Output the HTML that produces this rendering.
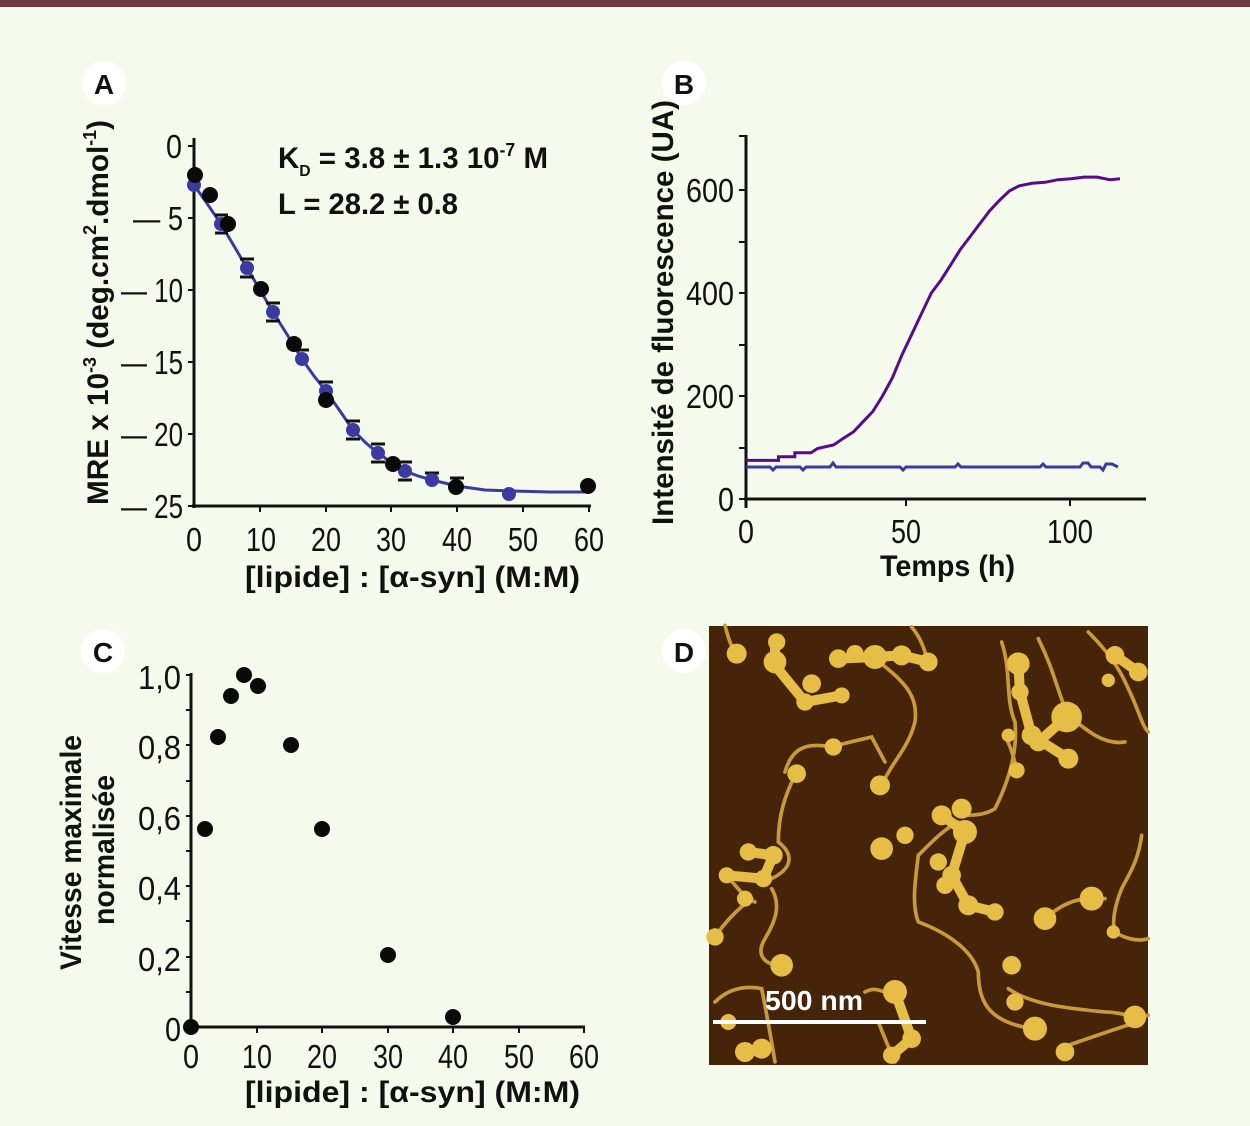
<!DOCTYPE html>
<html><head><meta charset="utf-8"><style>
html,body{margin:0;padding:0;background:#f5fbec;}
svg{display:block;}
text{font-family:"Liberation Sans Narrow","Liberation Sans",sans-serif;}
.t{font-size:33px;fill:#111;}
.b{font-size:30px;font-weight:bold;fill:#111;}
.lab{font-size:28px;font-weight:bold;fill:#111;text-anchor:middle;}
</style></head><body>
<svg width="1250" height="1126" viewBox="0 0 1250 1126" xmlns="http://www.w3.org/2000/svg">
<rect x="0" y="0" width="1250" height="1126" fill="#f5fbec"/>
<rect x="0" y="0" width="1250" height="7" fill="#6e3a48"/>

<circle cx="104" cy="83" r="22" fill="#fff"/><text x="104" y="94" class="lab">A</text>
<circle cx="684" cy="83" r="22" fill="#fff"/><text x="684" y="94" class="lab">B</text>
<circle cx="103" cy="651" r="22" fill="#fff"/><text x="103" y="662" class="lab">C</text>
<circle cx="684" cy="651" r="22" fill="#fff"/><text x="684" y="662" class="lab">D</text>

<!-- ============ Panel A ============ -->
<g stroke="#111" stroke-width="3" fill="none">
<line x1="194" y1="138" x2="194" y2="508"/>
<line x1="192" y1="506" x2="591" y2="506"/>
<g stroke-width="2">
<line x1="188" y1="146" x2="194" y2="146"/><line x1="188" y1="218" x2="194" y2="218"/>
<line x1="188" y1="290" x2="194" y2="290"/><line x1="188" y1="362" x2="194" y2="362"/>
<line x1="188" y1="434" x2="194" y2="434"/><line x1="188" y1="506" x2="194" y2="506"/>
<line x1="260" y1="506" x2="260" y2="512"/><line x1="326" y1="506" x2="326" y2="512"/>
<line x1="391" y1="506" x2="391" y2="512"/><line x1="457" y1="506" x2="457" y2="512"/>
<line x1="523" y1="506" x2="523" y2="512"/><line x1="589" y1="506" x2="589" y2="512"/>
</g></g>
<g class="t">
<text x="166" y="158" textLength="16" lengthAdjust="spacingAndGlyphs">0</text>
<text x="133" y="230" textLength="50" lengthAdjust="spacingAndGlyphs">— 5</text>
<text x="121" y="302" textLength="62" lengthAdjust="spacingAndGlyphs">— 10</text>
<text x="121" y="374" textLength="62" lengthAdjust="spacingAndGlyphs">— 15</text>
<text x="121" y="446" textLength="62" lengthAdjust="spacingAndGlyphs">— 20</text>
<text x="121" y="518" textLength="62" lengthAdjust="spacingAndGlyphs">— 25</text>
</g>
<g class="t">
<text x="186" y="551" textLength="16" lengthAdjust="spacingAndGlyphs">0</text>
<text x="246" y="551" textLength="30" lengthAdjust="spacingAndGlyphs">10</text>
<text x="311" y="551" textLength="30" lengthAdjust="spacingAndGlyphs">20</text>
<text x="376" y="551" textLength="30" lengthAdjust="spacingAndGlyphs">30</text>
<text x="442" y="551" textLength="30" lengthAdjust="spacingAndGlyphs">40</text>
<text x="508" y="551" textLength="30" lengthAdjust="spacingAndGlyphs">50</text>
<text x="574" y="551" textLength="30" lengthAdjust="spacingAndGlyphs">60</text>
</g>
<text x="245" y="587" class="b" textLength="335" lengthAdjust="spacingAndGlyphs">[lipide] : [α-syn] (M:M)</text>
<text transform="translate(108,505) rotate(-90)" class="b" textLength="385" lengthAdjust="spacingAndGlyphs">MRE x 10<tspan font-size="18" dy="-12">-3</tspan><tspan dy="12"> (deg.cm</tspan><tspan font-size="18" dy="-12">2</tspan><tspan dy="12">.dmol</tspan><tspan font-size="18" dy="-12">-1</tspan><tspan dy="12">)</tspan></text>
<text x="278" y="168" class="b" textLength="270" lengthAdjust="spacingAndGlyphs">K<tspan font-size="16" dy="8">D</tspan><tspan dy="-8"> = 3.8 ± 1.3 10</tspan><tspan font-size="18" dy="-12">-7</tspan><tspan dy="12"> M</tspan></text>
<text x="278" y="214" class="b" textLength="180" lengthAdjust="spacingAndGlyphs">L = 28.2 ± 0.8</text>
<polyline fill="none" stroke="#3a3aa0" stroke-width="3" points="194,185 206,202 221,224 234,246 247,268 260,290 273,312 288,336 302,359 314,376 326,391 340,411 353,430 366,443 378,453 392,463 405,471 418,476 432,480 457,486 485,490 512,491 550,492 589,492"/>
<g stroke="#111" stroke-width="3">
<line x1="215" y1="215" x2="228" y2="215"/><line x1="240" y1="259" x2="254" y2="259"/>
<line x1="266" y1="303" x2="280" y2="303"/><line x1="295" y1="350" x2="309" y2="350"/>
<line x1="319" y1="382" x2="333" y2="382"/><line x1="346" y1="421" x2="360" y2="421"/>
<line x1="371" y1="444" x2="385" y2="444"/><line x1="398" y1="462" x2="412" y2="462"/>
<line x1="425" y1="473" x2="439" y2="473"/><line x1="450" y1="478" x2="464" y2="478"/>
<line x1="215" y1="233" x2="228" y2="233"/><line x1="240" y1="277" x2="254" y2="277"/>
<line x1="266" y1="321" x2="280" y2="321"/><line x1="319" y1="400" x2="333" y2="400"/>
<line x1="346" y1="439" x2="360" y2="439"/><line x1="371" y1="462" x2="385" y2="462"/>
<line x1="398" y1="480" x2="412" y2="480"/>
</g>
<g fill="#3a3aa0">
<circle cx="194" cy="185" r="7"/><circle cx="221" cy="224" r="7"/><circle cx="247" cy="268" r="7"/>
<circle cx="273" cy="312" r="7"/><circle cx="302" cy="359" r="7"/><circle cx="326" cy="391" r="7"/>
<circle cx="353" cy="430" r="7"/><circle cx="378" cy="453" r="7"/><circle cx="405" cy="471" r="7"/>
<circle cx="432" cy="480" r="7"/><circle cx="509" cy="494" r="7"/>
</g>
<g fill="#0a0a0a">
<circle cx="195" cy="175" r="8"/><circle cx="210" cy="195" r="8"/><circle cx="228" cy="224" r="8"/>
<circle cx="261" cy="289" r="8"/><circle cx="294" cy="344" r="8"/><circle cx="326" cy="400" r="8"/>
<circle cx="393" cy="464" r="8"/><circle cx="456" cy="487" r="8"/><circle cx="588" cy="486" r="8"/>
</g>

<!-- ============ Panel B ============ -->
<g stroke="#111" stroke-width="3" fill="none">
<line x1="746" y1="135" x2="746" y2="508"/>
<line x1="744" y1="499" x2="1146" y2="499"/>
<g stroke-width="2">
<line x1="739" y1="136" x2="746" y2="136"/><line x1="739" y1="190" x2="746" y2="190"/>
<line x1="739" y1="242" x2="746" y2="242"/><line x1="739" y1="293" x2="746" y2="293"/>
<line x1="739" y1="345" x2="746" y2="345"/><line x1="739" y1="396" x2="746" y2="396"/>
<line x1="739" y1="448" x2="746" y2="448"/><line x1="739" y1="499" x2="746" y2="499"/>
<line x1="906" y1="499" x2="906" y2="506"/><line x1="1070" y1="499" x2="1070" y2="506"/>
</g></g>
<g class="t">
<text x="718" y="511" textLength="16" lengthAdjust="spacingAndGlyphs">0</text>
<text x="686" y="408" textLength="48" lengthAdjust="spacingAndGlyphs">200</text>
<text x="686" y="305" textLength="48" lengthAdjust="spacingAndGlyphs">400</text>
<text x="686" y="202" textLength="48" lengthAdjust="spacingAndGlyphs">600</text>
</g>
<g class="t">
<text x="738" y="543" textLength="16" lengthAdjust="spacingAndGlyphs">0</text>
<text x="891" y="543" textLength="30" lengthAdjust="spacingAndGlyphs">50</text>
<text x="1047" y="543" textLength="46" lengthAdjust="spacingAndGlyphs">100</text>
</g>
<text x="880" y="576" class="b" textLength="135" lengthAdjust="spacingAndGlyphs">Temps (h)</text>
<text transform="translate(673,525) rotate(-90)" class="b" textLength="425" lengthAdjust="spacingAndGlyphs">Intensité de fluorescence (UA)</text>
<polyline fill="none" stroke="#3a3aa0" stroke-width="3" points="746,467 770,467 773,470 776,467 800,467 803,470 806,467 830,467 833,463 836,467 900,467 903,470 906,467 955,467 958,464 961,467 1040,467 1043,464 1046,467 1080,467 1083,463 1088,463 1091,467 1100,467 1103,470 1106,464 1112,464 1118,467"/>
<polyline fill="none" stroke="#5a0a8a" stroke-width="3" points="746,460.4 778.5,460.4 778.5,456.8 794.8,456.8 794.8,452.7 811,452.7 817.5,448.5 833.8,444.9 843.5,438.2 853.3,432 863,421.8 872.8,411.5 882.5,396 892.3,378 902,354.8 911.8,334.2 921.5,313.6 931.3,293 941,280.1 950.8,264.7 960.5,249.2 970.3,236.4 980,223.5 989.8,210.6 999.5,200.3 1009.3,191 1019,185.9 1032,183.3 1045,182.3 1058,179.7 1071,178.7 1084,177.1 1097,177.1 1110,179.7 1120,178.7"/>

<!-- ============ Panel C ============ -->
<g stroke="#111" stroke-width="3" fill="none">
<line x1="191" y1="673" x2="191" y2="1030"/>
<line x1="189" y1="1027" x2="585" y2="1027"/>
<g stroke-width="2">
<line x1="186" y1="675" x2="191" y2="675"/><line x1="186" y1="710" x2="191" y2="710"/>
<line x1="186" y1="745" x2="191" y2="745"/><line x1="186" y1="781" x2="191" y2="781"/>
<line x1="186" y1="816" x2="191" y2="816"/><line x1="186" y1="851" x2="191" y2="851"/>
<line x1="186" y1="886" x2="191" y2="886"/><line x1="186" y1="921" x2="191" y2="921"/>
<line x1="186" y1="957" x2="191" y2="957"/><line x1="186" y1="992" x2="191" y2="992"/>
<line x1="257" y1="1027" x2="257" y2="1033"/><line x1="322" y1="1027" x2="322" y2="1033"/>
<line x1="388" y1="1027" x2="388" y2="1033"/><line x1="453" y1="1027" x2="453" y2="1033"/>
<line x1="519" y1="1027" x2="519" y2="1033"/><line x1="584" y1="1027" x2="584" y2="1033"/>
</g></g>
<g class="t">
<text x="138" y="689" textLength="43" lengthAdjust="spacingAndGlyphs">1,0</text>
<text x="138" y="759" textLength="43" lengthAdjust="spacingAndGlyphs">0,8</text>
<text x="138" y="830" textLength="43" lengthAdjust="spacingAndGlyphs">0,6</text>
<text x="138" y="900" textLength="43" lengthAdjust="spacingAndGlyphs">0,4</text>
<text x="138" y="971" textLength="43" lengthAdjust="spacingAndGlyphs">0,2</text>
<text x="165" y="1041" textLength="16" lengthAdjust="spacingAndGlyphs">0</text>
</g>
<g class="t">
<text x="183" y="1068" textLength="16" lengthAdjust="spacingAndGlyphs">0</text>
<text x="242" y="1068" textLength="30" lengthAdjust="spacingAndGlyphs">10</text>
<text x="307" y="1068" textLength="30" lengthAdjust="spacingAndGlyphs">20</text>
<text x="373" y="1068" textLength="30" lengthAdjust="spacingAndGlyphs">30</text>
<text x="438" y="1068" textLength="30" lengthAdjust="spacingAndGlyphs">40</text>
<text x="504" y="1068" textLength="30" lengthAdjust="spacingAndGlyphs">50</text>
<text x="569" y="1068" textLength="30" lengthAdjust="spacingAndGlyphs">60</text>
</g>
<text x="245" y="1102" class="b" textLength="335" lengthAdjust="spacingAndGlyphs">[lipide] : [α-syn] (M:M)</text>
<text transform="translate(81,970) rotate(-90)" class="b" textLength="235" lengthAdjust="spacingAndGlyphs">Vitesse maximale</text>
<text transform="translate(114,925) rotate(-90)" class="b" textLength="150" lengthAdjust="spacingAndGlyphs">normalisée</text>
<g fill="#0a0a0a">
<circle cx="191" cy="1027" r="8"/><circle cx="205" cy="829" r="8"/><circle cx="218" cy="737" r="8"/>
<circle cx="231" cy="696" r="8"/><circle cx="244" cy="675" r="8"/><circle cx="258" cy="686" r="8"/>
<circle cx="291" cy="745" r="8"/><circle cx="322" cy="829" r="8"/><circle cx="388" cy="955" r="8"/>
<circle cx="453" cy="1017" r="8"/>
</g>

<!-- ============ Panel D ============ -->
<rect x="709" y="626" width="439" height="439" fill="#46240a"/>
<g transform="translate(705,622) scale(0.3333)">
<g fill="none" stroke="#c99a3c" stroke-width="11" stroke-linecap="round">
<path d="M510,110 C600,180 640,220 630,300 C610,380 560,420 530,490"/>
<path d="M240,450 C260,380 300,360 380,375 C430,360 480,350 500,345 L540,420"/>
<path d="M270,460 C240,520 220,580 220,660 C270,700 260,740 200,770"/>
<path d="M200,800 C230,850 210,900 180,950 C150,1000 180,1030 230,1030"/>
<path d="M30,945 C60,900 100,860 140,830"/>
<path d="M65,760 C100,800 120,830 150,840"/>
<path d="M890,60 C920,150 900,230 930,300 C940,400 900,500 870,560 C840,580 800,580 780,580"/>
<path d="M640,700 C630,780 620,850 640,900 C720,930 800,980 820,1050 C820,1150 860,1200 980,1220"/>
<path d="M1020,890 C1100,820 1150,830 1200,830"/>
<path d="M1310,640 C1300,720 1270,760 1250,800 C1230,850 1220,900 1230,930 C1260,950 1300,960 1330,950"/>
<path d="M1150,30 C1200,80 1240,130 1270,200 C1300,260 1310,310 1330,330"/>
<path d="M1000,50 C1050,150 1060,220 1090,280 C1150,330 1200,370 1260,360"/>
<path d="M910,1100 C980,1150 1100,1160 1200,1170 C1250,1170 1280,1190 1330,1180"/>
<path d="M60,10 C70,50 80,80 95,95"/>
<path d="M480,1110 C500,1100 510,1100 540,1110"/>
<path d="M30,1140 C70,1100 120,1090 170,1100 C190,1200 200,1260 210,1320"/>
<path d="M520,1200 C540,1250 560,1300 570,1320"/>
<path d="M1060,1280 C1150,1250 1230,1220 1300,1200"/>
<path d="M620,15 C650,50 660,90 670,120"/>
<path d="M900,340 C920,380 930,420 935,445"/>
<path d="M640,700 C690,650 720,620 760,600"/>
</g>
<g fill="none" stroke="#e6bd45" stroke-width="30" stroke-linecap="round">
<path d="M210,60 L210,130 L300,240 L410,220"/>
<path d="M400,110 L510,105 L590,100 L670,120"/>
<path d="M940,125 L945,210 L980,340 L1090,410"/>
<path d="M1000,360 L1085,285"/>
<path d="M710,580 L780,630 L740,760 L790,850 L870,870"/>
<path d="M130,690 L205,700 L175,770 L65,760"/>
<path d="M120,1290 L170,1280"/>
<path d="M570,1110 L620,1250 L560,1300"/>
<path d="M1230,100 L1300,150"/>
</g>
<g fill="#e6bd45">
<circle cx="95" cy="95" r="30"/><circle cx="210" cy="120" r="34"/><circle cx="215" cy="60" r="26"/>
<circle cx="320" cy="185" r="28"/><circle cx="300" cy="240" r="26"/><circle cx="410" cy="220" r="24"/>
<circle cx="400" cy="110" r="28"/><circle cx="450" cy="95" r="26"/><circle cx="510" cy="105" r="36"/>
<circle cx="590" cy="100" r="30"/><circle cx="670" cy="120" r="28"/><circle cx="940" cy="125" r="34"/>
<circle cx="1230" cy="100" r="28"/><circle cx="1300" cy="150" r="28"/><circle cx="1210" cy="175" r="20"/>
<circle cx="945" cy="210" r="26"/><circle cx="1085" cy="285" r="46"/><circle cx="980" cy="340" r="30"/>
<circle cx="1000" cy="360" r="28"/><circle cx="1090" cy="410" r="30"/><circle cx="910" cy="340" r="20"/>
<circle cx="935" cy="445" r="24"/><circle cx="385" cy="375" r="26"/><circle cx="275" cy="455" r="28"/>
<circle cx="525" cy="490" r="30"/><circle cx="530" cy="680" r="34"/><circle cx="600" cy="640" r="26"/>
<circle cx="710" cy="580" r="30"/><circle cx="770" cy="560" r="30"/><circle cx="780" cy="630" r="36"/>
<circle cx="700" cy="720" r="26"/><circle cx="740" cy="760" r="28"/><circle cx="720" cy="790" r="26"/>
<circle cx="790" cy="850" r="30"/><circle cx="870" cy="870" r="26"/><circle cx="130" cy="690" r="26"/>
<circle cx="205" cy="700" r="28"/><circle cx="175" cy="770" r="26"/><circle cx="65" cy="760" r="24"/>
<circle cx="120" cy="830" r="24"/><circle cx="30" cy="945" r="26"/><circle cx="230" cy="1030" r="34"/>
<circle cx="1160" cy="830" r="36"/><circle cx="1020" cy="890" r="34"/><circle cx="1225" cy="930" r="20"/>
<circle cx="920" cy="1030" r="28"/><circle cx="930" cy="1140" r="26"/><circle cx="990" cy="1220" r="36"/>
<circle cx="1290" cy="1185" r="34"/><circle cx="1080" cy="1290" r="28"/><circle cx="570" cy="1110" r="36"/>
<circle cx="620" cy="1250" r="28"/><circle cx="560" cy="1300" r="26"/><circle cx="120" cy="1290" r="30"/>
<circle cx="170" cy="1280" r="30"/><circle cx="70" cy="1200" r="24"/>
</g>
</g>
<line x1="713" y1="1022" x2="926" y2="1022" stroke="#fff" stroke-width="4"/>
<text x="765" y="1010" font-size="28" font-weight="bold" fill="#fff" textLength="98" lengthAdjust="spacingAndGlyphs">500 nm</text>
</svg>
</body></html>
